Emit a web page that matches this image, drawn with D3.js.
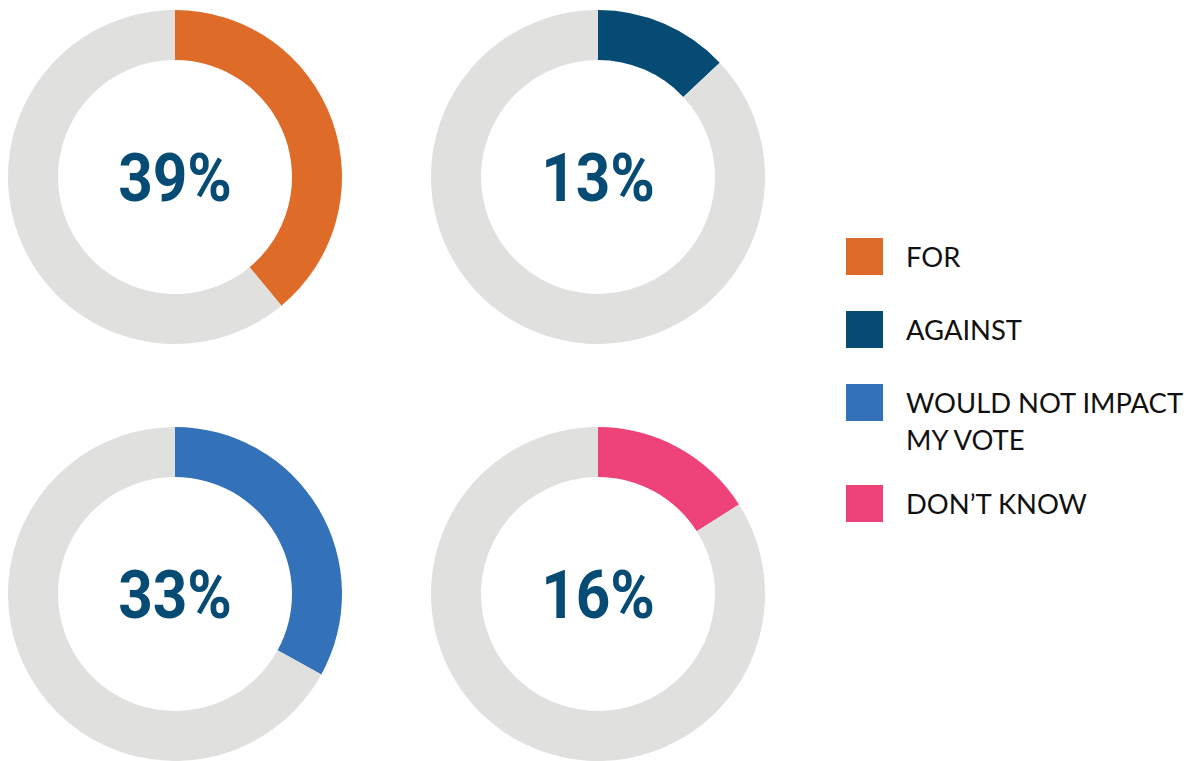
<!DOCTYPE html>
<html>
<head>
<meta charset="utf-8">
<script src="https://cdn.jsdelivr.net/npm/d3@7"></script>
<style>
  html, body { margin: 0; padding: 0; background: #ffffff; }
  svg { display: block; }
</style>
</head>
<body>
<svg id="chart" width="1189" height="761"></svg>
<script>
// Survey responses, one donut per answer
const categories = ["FOR", "AGAINST", "WOULD NOT IMPACT MY VOTE", "DON\u2019T KNOW"];
const values = [39, 13, 33, 16];
const legendLines = [["FOR"], ["AGAINST"], ["WOULD NOT IMPACT", "MY VOTE"], ["DON\u2019T KNOW"]];
const colors = ["#DF6B28", "#054B73", "#3371B9", "#EE4379"];
const restColor = "#E0E0DF";

const svg = d3.select("#chart");

// 2x2 grid of donuts
const col = d3.scaleOrdinal().domain([0, 1]).range([175, 598]);
const row = d3.scaleOrdinal().domain([0, 1]).range([177, 594]);

const outerR = 167, innerR = 117;
const pie = d3.pie().sort(null).value(d => d.v);
const arc = d3.arc().innerRadius(innerR).outerRadius(outerR);

categories.forEach((cat, i) => {
  const g = svg.append("g")
    .attr("transform", `translate(${col(i % 2)},${row(Math.floor(i / 2))})`);

  const slices = pie([{ v: values[i], c: colors[i] }, { v: 100 - values[i], c: restColor }]);
  g.selectAll("path")
    .data(slices)
    .join("path")
    .attr("d", arc)
    .attr("fill", d => d.data.c);

  g.append("text")
    .attr("x", 0)
    .attr("y", 0)
    .attr("dy", "0.355em")
    .attr("text-anchor", "middle")
    .attr("transform", "scale(0.9,1)")
    .attr("font-family", "Roboto, 'DejaVu Sans', sans-serif")
    .attr("font-weight", 700)
    .attr("font-size", 67)
    .attr("fill", "#054B73")
    .text(`${values[i]}%`);
});

// Legend
const legend = svg.append("g").attr("transform", "translate(846,238)");
const sw = 37, step = 73, extraLine = 28, lineH = 37;
let yOff = 0;
legendLines.forEach((lines, i) => {
  const item = legend.append("g").attr("transform", `translate(0,${yOff})`);
  item.append("rect")
    .attr("width", sw)
    .attr("height", sw)
    .attr("fill", colors[i]);
  const t = item.append("text")
    .attr("font-family", "Lato, 'Open Sans', sans-serif")
    .attr("font-size", 27.4)
    .attr("fill", "#111111");
  lines.forEach((ln, j) => {
    t.append("tspan")
      .attr("x", 60)
      .attr("y", sw / 2 + 10 + j * lineH)
      .text(ln);
  });
  yOff += step + (lines.length - 1) * extraLine;
});
</script>
</body>
</html>
